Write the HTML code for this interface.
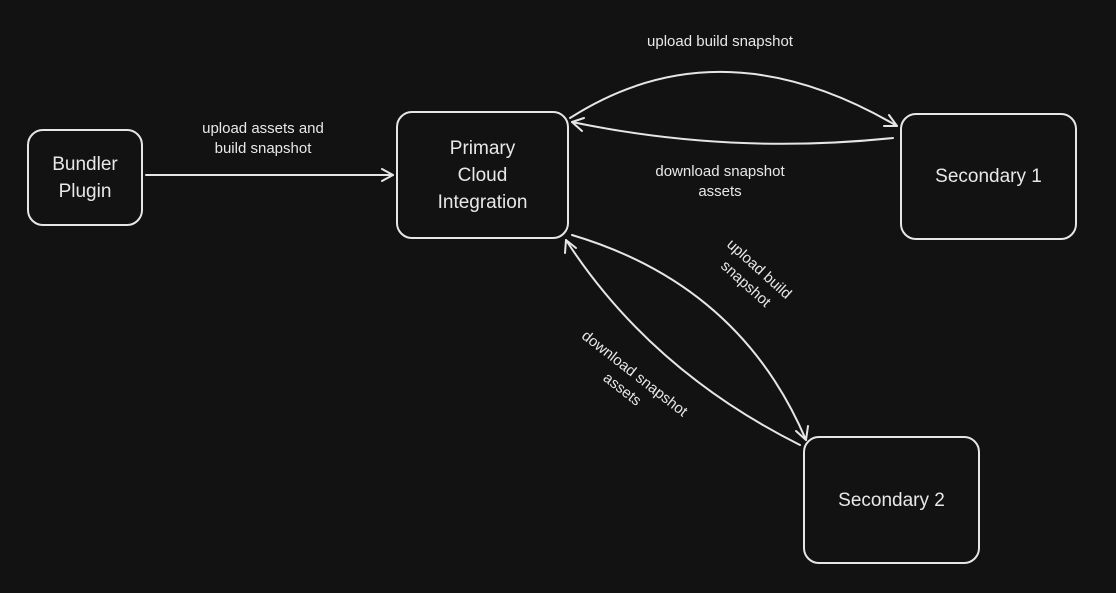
<!DOCTYPE html>
<html><head><style>
html,body{margin:0;padding:0;background:#121212;}
body{width:1116px;height:593px;position:relative;overflow:hidden;font-family:"Liberation Sans",sans-serif;color:#e8e8e8;}
.box{position:absolute;border:2px solid #e6e6e6;border-radius:16px;box-sizing:border-box;display:flex;align-items:center;justify-content:center;text-align:center;font-size:19px;line-height:27px;}
.lbl{position:absolute;font-size:15px;line-height:20px;text-align:center;white-space:nowrap;transform-origin:center;}
</style></head><body>
<svg width="1116" height="593" style="position:absolute;left:0;top:0" fill="none" stroke="#e6e6e6" stroke-width="2" stroke-linecap="round" stroke-linejoin="round">
<path d="M146 175 L393 175"/><path d="M382 169 L393 175 L382 181"/>
<path d="M570 118 Q720 22 897 126"/><path d="M884 126 L897 126 L889 115"/>
<path d="M893 138 Q730 155 572 122"/><path d="M584 118 L572 122 L582 131"/>
<path d="M572 235 Q740 285 806 440"/><path d="M796 431 L806 440 L808 426"/>
<path d="M800 445 Q650 370 566 240"/><path d="M565 253 L566 240 L576 248"/>
</svg>
<div class="box" style="left:27px;top:129px;width:116px;height:97px;">Bundler<br>Plugin</div>
<div class="box" style="left:396px;top:111px;width:173px;height:128px;">Primary<br>Cloud<br>Integration</div>
<div class="box" style="left:900px;top:113px;width:177px;height:127px;">Secondary 1</div>
<div class="box" style="left:803px;top:436px;width:177px;height:128px;">Secondary 2</div>
<div class="lbl" style="left:180px;top:119px;width:166px;">upload assets and<br>build snapshot</div>
<div class="lbl" style="left:610px;top:32px;width:220px;">upload build snapshot</div>
<div class="lbl" style="left:620px;top:162px;width:200px;">download snapshot<br>assets</div>
<div class="lbl" style="left:692px;top:257px;width:120px;transform:rotate(42deg);">upload build<br>snapshot</div>
<div class="lbl" style="left:553px;top:362px;width:150px;transform:rotate(38deg);">download snapshot<br>assets</div>
</body></html>
